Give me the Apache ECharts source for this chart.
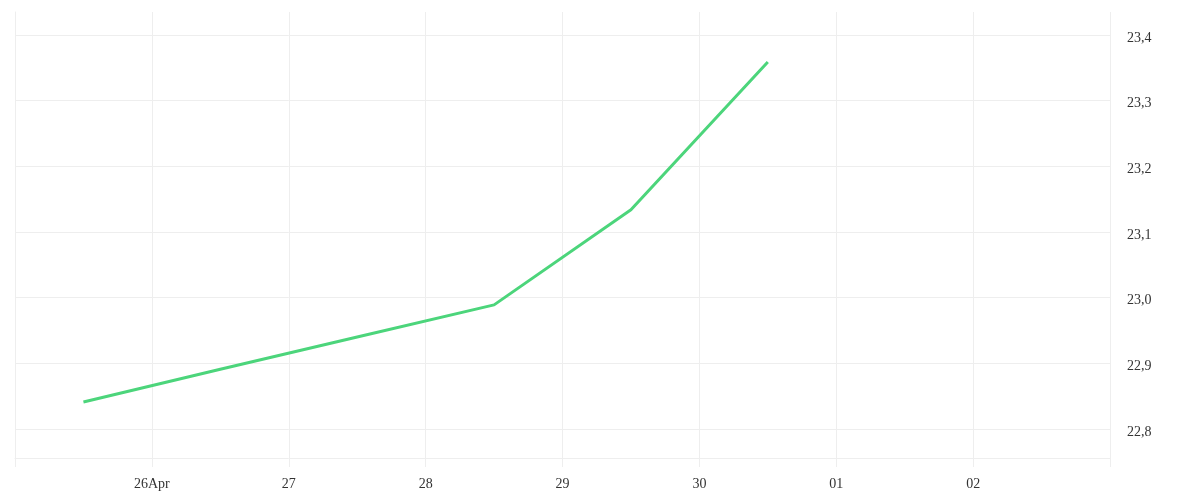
<!DOCTYPE html>
<html>
<head>
<meta charset="utf-8">
<script src="https://cdn.jsdelivr.net/npm/echarts@6/dist/echarts.min.js"></script>
<style>
html,body{margin:0;padding:0;background:#fff;}
#chart{width:1200px;height:500px;}
</style>
</head>
<body>
<div id="chart"></div>
<script>
// Day ticks on the x axis (25 Apr .. 03 May); first and last are unlabeled
const tickLabels = ["", "26Apr", "27", "28", "29", "30", "01", "02", ""];
// Observation days (point sits at the middle of each day)
const days = ["25 Apr", "26 Apr", "27 Apr", "28 Apr", "29 Apr", "30 Apr"];
const values = [22.841, 22.891, 22.940, 22.989, 23.134, 23.359];
// Y-axis tick values
const yTicks = [22.8, 22.9, 23.0, 23.1, 23.2, 23.3, 23.4];

const gridColor = '#eeeeee';
const fontFamily = '"Liberation Serif", serif';

const chart = echarts.init(document.getElementById('chart'), null, {renderer: 'canvas'});
chart.setOption({
  animation: false,
  backgroundColor: '#ffffff',
  grid: {left: 15, right: 90, top: 12, bottom: 42},
  xAxis: {
    type: 'value',
    min: 0,
    max: tickLabels.length - 1,
    interval: 1,
    axisLine: {show: true, lineStyle: {color: gridColor, width: 1}},
    axisTick: {show: true, length: 9, lineStyle: {color: gridColor}},
    splitLine: {show: true, lineStyle: {color: gridColor, width: 1}},
    axisLabel: {
      margin: 19,
      color: '#333',
      fontFamily: fontFamily,
      fontSize: 14,
      showMinLabel: true,
      showMaxLabel: true,
      formatter: v => tickLabels[Math.round(v)] || ''
    }
  },
  yAxis: {
    type: 'value',
    position: 'right',
    min: 22.7558,
    max: 23.435,
    scale: true,
    axisLine: {show: true, lineStyle: {color: gridColor, width: 1}},
    axisTick: {show: false, customValues: yTicks},
    splitLine: {show: true, lineStyle: {color: gridColor, width: 1}},
    axisLabel: {
      customValues: yTicks,
      margin: 17,
      color: '#333',
      fontFamily: fontFamily,
      fontSize: 14,
      formatter: v => '{a|' + v.toFixed(1).replace('.', ',') + '}',
      rich: {
        a: {
          padding: [6, 0, 0, 0],
          color: '#333',
          fontFamily: fontFamily,
          fontSize: 14
        }
      }
    }
  },
  series: [{
    type: 'line',
    data: days.map((d, i) => [i + 0.5, values[i]]),
    showSymbol: false,
    symbol: 'none',
    lineStyle: {color: '#4cd57b', width: 3},
    itemStyle: {color: '#4cd57b'}
  }]
});
</script>
</body>
</html>
